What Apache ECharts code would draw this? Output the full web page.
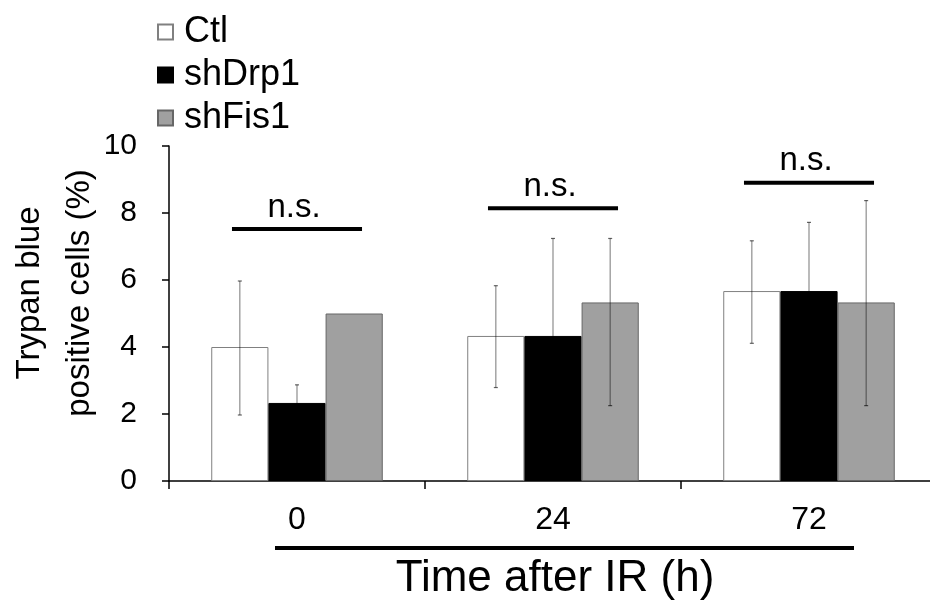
<!DOCTYPE html>
<html>
<head>
<meta charset="utf-8">
<script src="https://cdn.jsdelivr.net/npm/echarts@6/dist/echarts.min.js"></script>
<style>html,body{margin:0;padding:0;background:#fff}#main{width:930px;height:605px}</style>
</head>
<body>
<div id="main"></div>
<script>
// ---- data ----
const categories = ['0', '24', '72'];
const seriesNames = ['Ctl', 'shDrp1', 'shFis1'];
const ctlValues = [4.0, 4.33, 5.67];
const drpValues = [2.33, 4.33, 5.67];
const fisValues = [5.0, 5.33, 5.33];
const ctlLow = [1.97, 2.79, 4.11];
const ctlHigh = [5.97, 5.83, 7.17];
const drpLow = [1.78, 1.43, 3.62];
const drpHigh = [2.87, 7.24, 7.72];
const fisLow = [null, 2.25, 2.25];
const fisHigh = [null, 7.24, 8.37];
const nsLevels = [7.52, 8.14, 8.9];
const nsLabel = 'n.s.';
const yTicks = [0, 2, 4, 6, 8, 10];

const FONT = '"Liberation Sans", Arial, sans-serif';
const GAP = 0.33;

function errData(lo, hi) {
  const out = [];
  for (let i = 0; i < lo.length; i++) if (lo[i] != null) out.push([i, lo[i], hi[i]]);
  return out;
}

function errSeries(idx, lo, hi) {
  return {
    type: 'custom',
    z: 5,
    silent: true,
    data: errData(lo, hi),
    encode: { x: 0, y: [1, 2] },
    renderItem: function (params, api) {
      const c = api.value(0);
      const pLo = api.coord([c, api.value(1)]);
      const pHi = api.coord([c, api.value(2)]);
      const band = api.size([1, 0])[0];
      const bw = band * (1 - GAP) / 3;
      const x = pLo[0] + (idx - 1) * bw;
      const st = { stroke: 'rgba(0,0,0,0.45)', lineWidth: 1.2 };
      const cap = { stroke: 'rgba(0,0,0,0.6)', lineWidth: 1.2 };
      return {
        type: 'group',
        children: [
          { type: 'line', shape: { x1: x, y1: pLo[1], x2: x, y2: pHi[1] }, style: st },
          { type: 'line', shape: { x1: x - 2, y1: pLo[1], x2: x + 2, y2: pLo[1] }, style: cap },
          { type: 'line', shape: { x1: x - 2, y1: pHi[1], x2: x + 2, y2: pHi[1] }, style: cap }
        ]
      };
    }
  };
}

const chart = echarts.init(document.getElementById('main'), null, { renderer: 'canvas' });
chart.setOption({
  animation: false,
  backgroundColor: '#fff',
  textStyle: { fontFamily: FONT },
  grid: { left: 169, top: 146, width: 768, height: 335, containLabel: false, outerBoundsMode: 'none' },
  legend: {
    data: seriesNames,
    orient: 'vertical',
    left: 152,
    top: 9,
    itemWidth: 15,
    itemHeight: 15,
    itemGap: 7,
    icon: 'rect',
    textStyle: { fontSize: 36, color: '#000', fontFamily: FONT, padding: [0, 0, 0, 6] }
  },
  xAxis: {
    type: 'category',
    data: categories,
    axisLine: { lineStyle: { color: '#000', width: 1.5 } },
    axisTick: { show: true, length: 8, lineStyle: { color: '#000', width: 1.5 } },
    axisLabel: { fontSize: 32, color: '#000', margin: 23, fontFamily: FONT }
  },
  yAxis: {
    type: 'value',
    min: 0, max: 10, interval: 2,
    splitLine: { show: false },
    axisLine: { show: true, lineStyle: { color: '#000', width: 1.5 } },
    axisTick: { show: true, length: 7, lineStyle: { color: '#000', width: 1.5 } },
    axisLabel: {
      fontSize: 30, color: '#000', margin: 32, fontFamily: FONT,
      formatter: function (v) { return yTicks.indexOf(v) >= 0 ? String(v) : ''; }
    }
  },
  graphic: [
    {
      type: 'text', x: 55, y: 293, rotation: Math.PI / 2,
      style: {
        text: 'Trypan blue\npositive cells (%)', fontSize: 33, lineHeight: 50,
        fontFamily: FONT, fill: '#000', textAlign: 'center', textVerticalAlign: 'middle'
      }
    },
    {
      type: 'line', shape: { x1: 275, y1: 548, x2: 854, y2: 548 },
      style: { stroke: '#000', lineWidth: 4 }
    },
    {
      type: 'text', x: 555, y: 579,
      style: {
        text: 'Time after IR (h)', fontSize: 44, fontFamily: FONT, fill: '#000',
        textAlign: 'center', textVerticalAlign: 'middle'
      }
    }
  ],
  series: [
    {
      name: 'Ctl', type: 'bar', data: ctlValues, barGap: '0%', barCategoryGap: '33%',
      itemStyle: { color: '#ffffff', borderColor: '#808080', borderWidth: 1 }
    },
    {
      name: 'shDrp1', type: 'bar', data: drpValues, barGap: '0%', barCategoryGap: '33%',
      itemStyle: { color: '#000000', borderColor: '#000000', borderWidth: 1 }
    },
    {
      name: 'shFis1', type: 'bar', data: fisValues, barGap: '0%', barCategoryGap: '33%',
      itemStyle: { color: '#a0a0a0', borderColor: '#666666', borderWidth: 1 }
    },
    errSeries(0, ctlLow, ctlHigh),
    errSeries(1, drpLow, drpHigh),
    errSeries(2, fisLow, fisHigh),
    {
      type: 'custom',
      z: 6,
      silent: true,
      data: nsLevels.map(function (v, i) { return [i, v]; }),
      encode: { x: 0, y: 1 },
      renderItem: function (params, api) {
        const p = api.coord([api.value(0), api.value(1)]);
        const band = api.size([1, 0])[0];
        const half = band * 0.254;
        return {
          type: 'group',
          children: [
            { type: 'line', shape: { x1: p[0] - half, y1: p[1], x2: p[0] + half, y2: p[1] },
              style: { stroke: '#000', lineWidth: 4 } },
            { type: 'text', x: p[0] - 3, y: p[1] - 5,
              style: { text: nsLabel, fontSize: 33, fontFamily: FONT, fill: '#000',
                       textAlign: 'center', textVerticalAlign: 'bottom' } }
          ]
        };
      }
    }
  ]
});
</script>
</body>
</html>
